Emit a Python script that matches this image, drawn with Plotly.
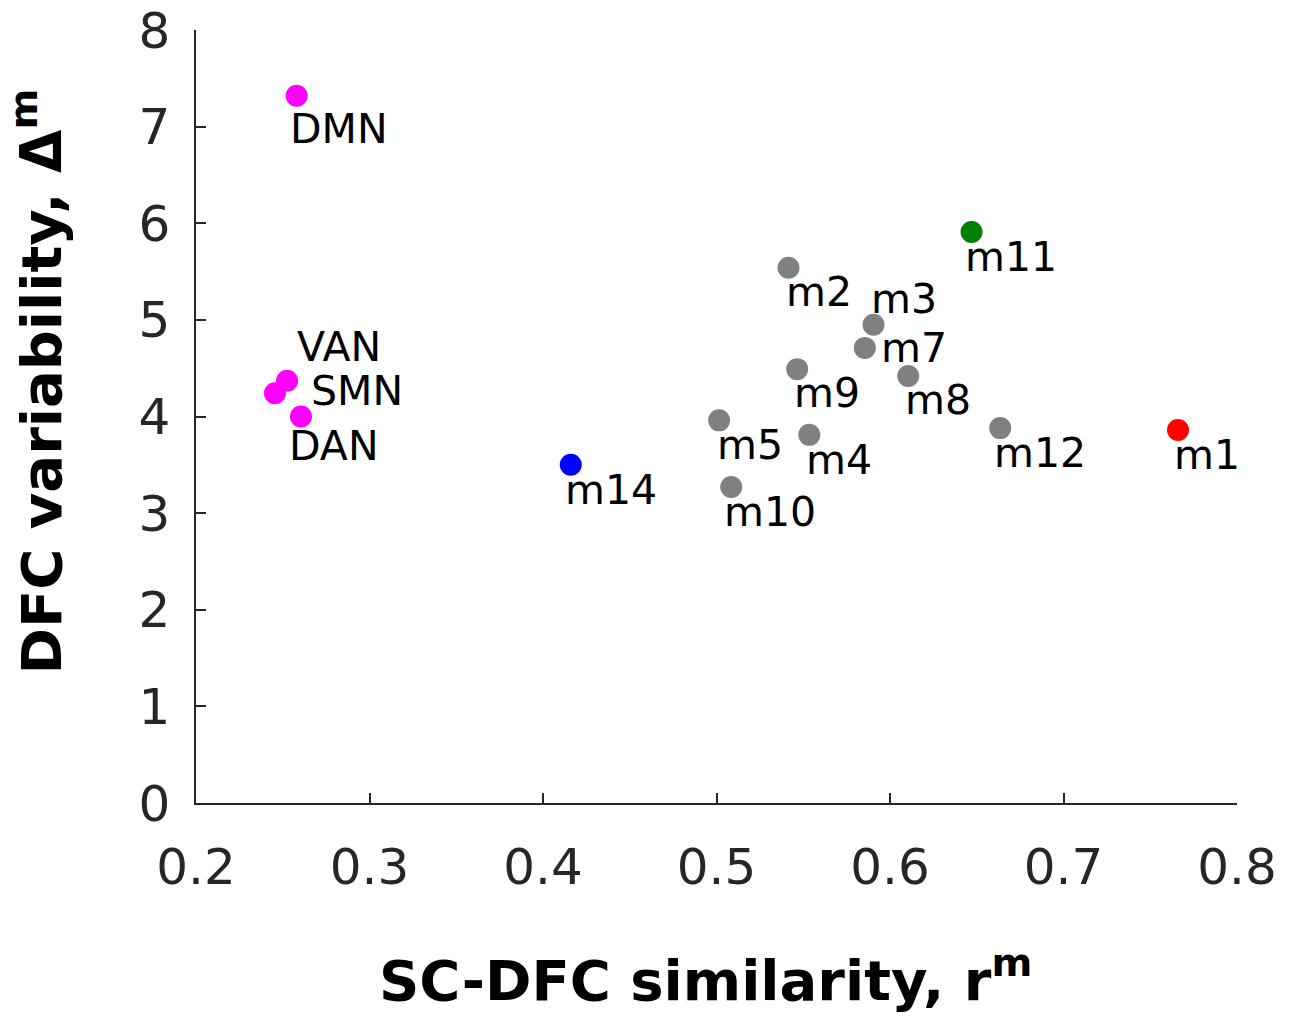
import plotly.graph_objects as go

# ---- data ----
names = ["DMN", "VAN", "SMN", "DAN", "m14", "m5", "m10", "m4", "m9", "m2",
         "m3", "m7", "m8", "m12", "m11", "m1"]
sc_dfc_similarity = [0.258, 0.2525, 0.2455, 0.2605, 0.416, 0.5015, 0.5085, 0.5535,
                     0.5465, 0.5415, 0.5905, 0.5855, 0.6105, 0.6635, 0.647, 0.766]
dfc_variability = [7.32, 4.37, 4.24, 4.00, 3.50, 3.96, 3.27, 3.81,
                   4.49, 5.54, 4.95, 4.71, 4.42, 3.88, 5.91, 3.86]
groups = ["net", "net", "net", "net", "m14", "grey", "grey", "grey",
          "grey", "grey", "grey", "grey", "grey", "grey", "m11", "m1"]

# ---- styles ----
group_colors = {"net": "#FF00FF", "grey": "#808080", "m14": "#0000FF",
                "m11": "#008000", "m1": "#FF0000"}
# label pixel offsets (dx, dy up-positive) relative to marker centre
label_offsets = {
    "DMN": (-9, -33), "VAN": (8, 34), "SMN": (34, 2), "DAN": (-14, -29),
    "m14": (-8, -25), "m5": (-4, -25), "m10": (-9, -25), "m4": (-5, -25),
    "m9": (-5, -24), "m2": (-5, -24), "m3": (-5, 26), "m7": (14, 0),
    "m8": (-5, -24), "m12": (-8, -25), "m11": (-9, -25), "m1": (-6, -25),
}

FONT = "DejaVu Sans"
AXC = "#262626"

fig = go.Figure()
fig.add_trace(go.Scatter(
    x=sc_dfc_similarity, y=dfc_variability, mode="markers",
    marker=dict(size=22, color=[group_colors[g] for g in groups], line=dict(width=0)),
    showlegend=False, hoverinfo="text", text=names,
))

for n, xv, yv in zip(names, sc_dfc_similarity, dfc_variability):
    dx, dy = label_offsets[n]
    fig.add_annotation(x=xv, y=yv, text=n, showarrow=False, xanchor="left",
                       yanchor="middle", xshift=dx, yshift=dy,
                       font=dict(family=FONT, size=41, color="black"))

fig.add_annotation(xref="paper", yref="paper", x=-0.152, y=0.545,
                   text="<b>DFC variability, Δ<sup>m</sup></b>", textangle=-90,
                   showarrow=False, xanchor="center", yanchor="middle",
                   font=dict(family=FONT, size=56, color="black"))
fig.add_annotation(xref="paper", yref="paper", x=0.489, y=-0.224,
                   text="<b>SC-DFC similarity, r<sup>m</sup></b>",
                   showarrow=False, xanchor="center", yanchor="middle",
                   font=dict(family=FONT, size=56, color="black"))

axis_common = dict(showline=True, linecolor=AXC, linewidth=1.5, ticks="inside",
                   ticklen=10, tickwidth=1.5, tickcolor=AXC, showgrid=False,
                   zeroline=False, mirror=False, automargin=False,
                   tickfont=dict(family=FONT, size=50, color=AXC))
fig.update_xaxes(range=[0.2, 0.8], tickvals=[0.2, 0.3, 0.4, 0.5, 0.6, 0.7, 0.8],
                 ticktext=["0.2", "0.3", "0.4", "0.5", "0.6", "0.7", "0.8"],
                 ticklabelstandoff=19, **axis_common)
fig.update_yaxes(range=[0, 8], tickvals=list(range(9)),
                 ticktext=[str(v) for v in range(9)],
                 ticklabelstandoff=14, **axis_common)

fig.update_layout(width=1293, height=1016, plot_bgcolor="white", paper_bgcolor="white",
                  margin=dict(l=196, r=56, t=30, b=213, autoexpand=False),
                  font=dict(family=FONT))
fig.write_html("out.html")
